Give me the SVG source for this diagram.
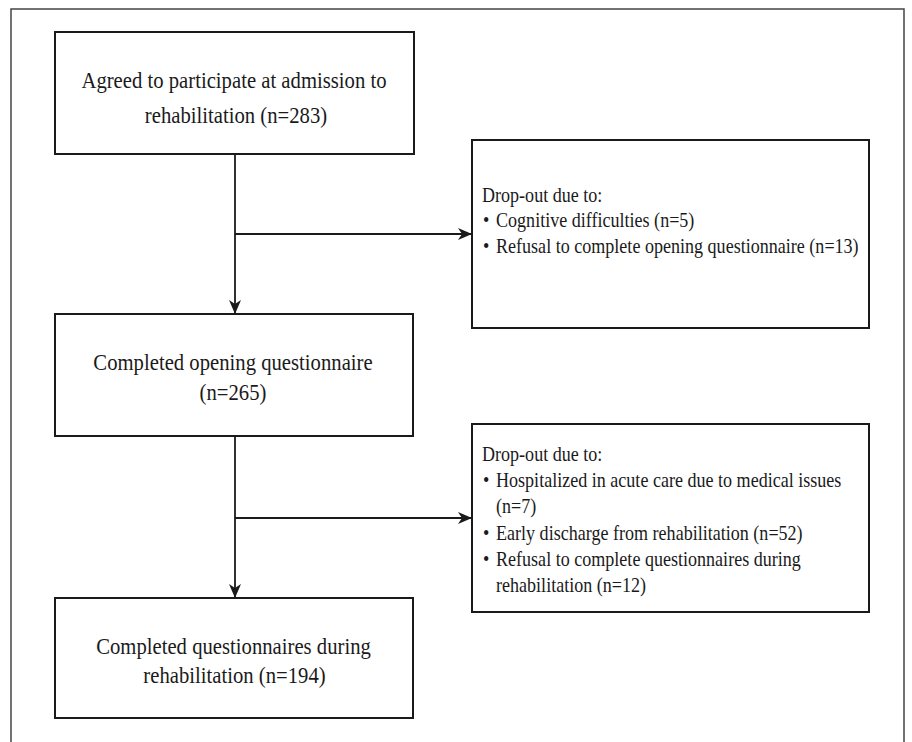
<svg xmlns="http://www.w3.org/2000/svg" width="912" height="742" viewBox="0 0 912 742">
<style>
.frame{fill:none;stroke:#444;stroke-width:1.5}
.box{fill:#fff;stroke:#1a1a1a;stroke-width:2}
.t{font-family:"Liberation Serif","Times New Roman",serif;fill:#1a1a1a}
.m{font-size:22.5px;text-anchor:middle}
.s{font-size:21px}
.c{fill:none;stroke:#1a1a1a;stroke-width:1.8}
</style>
<defs>
<marker id="ah" viewBox="0 0 14 12" refX="13" refY="6" markerWidth="14" markerHeight="12" markerUnits="userSpaceOnUse" orient="auto">
<path d="M0,0 L14,6 L0,12 L4,6 Z" fill="#1a1a1a"/>
</marker>
</defs>
<rect width="912" height="742" fill="#fff"/>
<rect class="frame" x="11" y="9" width="893" height="760"/>
<g id="connectors">
<line class="c" x1="235" y1="155" x2="235" y2="313" marker-end="url(#ah)"/>
<line class="c" x1="235" y1="234" x2="471" y2="234" marker-end="url(#ah)"/>
<line class="c" x1="235" y1="437" x2="235" y2="597" marker-end="url(#ah)"/>
<line class="c" x1="235" y1="518" x2="471" y2="518" marker-end="url(#ah)"/>
</g>
<g id="n1">
<rect class="box" x="55" y="32" width="359" height="122"/>
<text class="t m" transform="translate(234,88) scale(0.92,1)">Agreed to participate at admission to</text>
<text class="t m" transform="translate(236,123) scale(0.92,1)">rehabilitation (n=283)</text>
</g>
<g id="n2">
<rect class="box" x="472" y="140" width="397" height="188"/>
<g transform="translate(482,0) scale(0.86,1)">
<text class="t s" x="0" y="202">Drop-out due to:</text>
<text class="t s" x="1.2" y="227">•</text>
<text class="t s" x="16.3" y="227">Cognitive difficulties (n=5)</text>
<text class="t s" x="1.2" y="253">•</text>
<text class="t s" x="16.3" y="253">Refusal to complete opening questionnaire (n=13)</text>
</g>
</g>
<g id="n3">
<rect class="box" x="55" y="314" width="358" height="122"/>
<text class="t m" transform="translate(233,370) scale(0.92,1)">Completed opening questionnaire</text>
<text class="t m" transform="translate(233,400) scale(0.92,1)">(n=265)</text>
</g>
<g id="n4">
<rect class="box" x="472" y="424" width="397" height="188"/>
<g transform="translate(482,0) scale(0.86,1)">
<text class="t s" x="0" y="461">Drop-out due to:</text>
<text class="t s" x="1.2" y="487">•</text>
<text class="t s" x="16.3" y="487">Hospitalized in acute care due to medical issues</text>
<text class="t s" x="16.3" y="513">(n=7)</text>
<text class="t s" x="1.2" y="540">•</text>
<text class="t s" x="16.3" y="540">Early discharge from rehabilitation (n=52)</text>
<text class="t s" x="1.2" y="566">•</text>
<text class="t s" x="16.3" y="566">Refusal to complete questionnaires during</text>
<text class="t s" x="16.3" y="592">rehabilitation (n=12)</text>
</g>
</g>
<g id="n5">
<rect class="box" x="55" y="598" width="358" height="120"/>
<text class="t m" transform="translate(233.5,654) scale(0.92,1)">Completed questionnaires during</text>
<text class="t m" transform="translate(234.5,683) scale(0.92,1)">rehabilitation (n=194)</text>
</g>
</svg>
